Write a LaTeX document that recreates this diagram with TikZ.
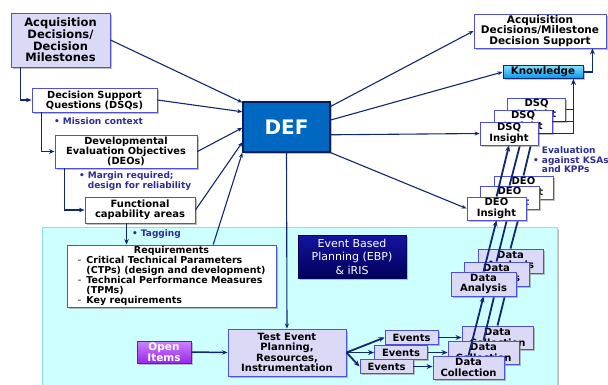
\documentclass[tikz,border=0pt]{standalone}
\usepackage{fontspec}
\setmainfont{DejaVu Sans}
\usetikzlibrary{arrows.meta,shadows,calc}

\definecolor{flow}{RGB}{16,40,112}
\definecolor{lavender}{RGB}{218,218,246}
\definecolor{edgeblue}{RGB}{80,80,215}
\definecolor{panel}{RGB}{206,255,255}
\definecolor{paneledge}{RGB}{140,222,245}
\definecolor{defblue}{RGB}{0,104,192}
\definecolor{defedge}{RGB}{8,28,88}
\definecolor{notes}{RGB}{44,44,150}
\definecolor{knowtop}{RGB}{130,225,255}
\definecolor{knowbot}{RGB}{0,150,235}
\definecolor{opentop}{RGB}{205,130,255}
\definecolor{openbot}{RGB}{150,40,235}
\definecolor{openedge}{RGB}{110,20,190}
\definecolor{ebptop}{RGB}{20,20,160}
\definecolor{ebpbot}{RGB}{0,0,90}

\tikzset{
  boxshadow/.style={drop shadow={shadow xshift=1.6pt,shadow yshift=-1.6pt,fill=black!45,opacity=.55}},
  dims/.style 2 args={minimum width=#1pt,minimum height=#2pt},
  box/.style={draw=edgeblue,line width=0.9pt,fill=white,boxshadow,align=center,inner sep=0pt,
    font=\bfseries\fontsize{10}{10.3}\selectfont},
  lavbox/.style={box,fill=lavender},
  link/.style={draw=flow,line width=1.1pt,-{Stealth[length=5pt,width=4pt]}},
  flowline/.style={draw=flow,line width=1.5pt,-{Stealth[length=5.5pt,width=4.5pt]}},
  heavy/.style={draw=flow,line width=1.8pt,-{Stealth[length=6pt,width=5pt]}},
  bar/.style={draw=flow,line width=1.8pt},
  note/.style={text=notes,font=\bfseries\fontsize{9}{9.2}\selectfont,align=left,inner sep=0pt,anchor=west},
  dsqcard/.style={box,dims={58}{23}},
  deocard/.style={box,dims={59}{23}},
  dacard/.style={lavbox,dims={65}{24}},
  dccard/.style={lavbox,dims={71}{23}},
  evcard/.style={lavbox,dims={53}{14}},
}

\begin{document}
\begin{tikzpicture}[x=1pt,y=-1pt]
\useasboundingbox (0,0) rectangle (608,384);

% test-and-evaluation area
\draw[draw=paneledge,fill=panel,line width=0.8pt,boxshadow] (42,227) rectangle (557,392);

% decision chain on the left
\node[lavbox,dims={99}{54},font=\bfseries\fontsize{11.5}{11.7}\selectfont] (acq) at (60.5,40)
  {Acquisition\\Decisions/\\Decision\\Milestones};
\node[box,dims={125}{24},font=\bfseries\fontsize{9.8}{10}\selectfont] (dsq) at (94.5,100)
  {Decision Support\\Questions (DSQs)};
\node[box,dims={142}{33},font=\bfseries\fontsize{9.8}{10}\selectfont] (deo) at (126,151.5)
  {Developmental\\Evaluation Objectives\\(DEOs)};
\node[box,dims={110}{26}] (fca) at (140,210) {Functional\\capability areas};
\node[box,dims={209}{62},font=\bfseries\fontsize{9.5}{9.1}\selectfont] (req) at (171.5,276)
  {Requirements\\
   \begin{tabular}{@{}l@{\hspace{5pt}}l@{}}
   {\color{gray}-} & Critical Technical Parameters\\
                   & (CTPs) (design and development)\\
   {\color{gray}-} & Technical Performance Measures\\
                   & (TPMs)\\
   {\color{gray}-} & Key requirements
   \end{tabular}};

\node[note] (n1) at (54,121) {•\hspace{3pt}Mission context};
\node[note] (n2) at (79,181) {•\hspace{3pt}Margin required;\\\hphantom{•\hspace{3pt}}design for reliability};
\node[note] (n3) at (132,234) {•\hspace{3pt}Tagging};

% central node
\node[draw=defedge,line width=1.3pt,fill=defblue,boxshadow,dims={87}{50},text=white,
  font=\bfseries\fontsize{20}{20}\selectfont] (def) at (286.5,127) {DEF};

\node[draw=ebpbot,top color=ebptop,bottom color=ebpbot,boxshadow,dims={108}{43},text=white,
  align=center,inner sep=0pt,font=\fontsize{11}{13.5}\selectfont] (ebp) at (352,256.5)
  {Event Based\\Planning (EBP)\\\& iRIS};

\node[draw=openedge,line width=0.8pt,top color=opentop,bottom color=openbot,boxshadow,
  dims={54}{22},text=white,align=center,inner sep=0pt,
  font=\bfseries\fontsize{10.5}{10.5}\selectfont] (open) at (164,352) {Open\\Items};
\node[lavbox,dims={118}{47}] (test) at (287,352.5)
  {Test Event\\Planning,\\Resources,\\Instrumentation};

% right-hand outputs
\node[box,dims={132}{34},font=\bfseries\fontsize{10.5}{10.3}\selectfont] (ads) at (540,31)
  {Acquisition\\Decisions/Milestone\\Decision Support};
\node[draw=flow,line width=0.9pt,top color=knowtop,bottom color=knowbot,boxshadow,
  dims={80}{13},inner sep=0pt,font=\bfseries\fontsize{10.3}{10}\selectfont] (know) at (543,72) {Knowledge};
\coordinate (bus) at ($(know.south east)+(-10,0)$);
\coordinate (kup) at ($(ads.south east)+(-14,0)$);

% decision chain connectors
\draw[flowline] ($(acq.south west)+(10,0)$) |- (dsq.west);
\draw[flowline] ($(dsq.south west)+(10,0)$) |- (deo.west);
\draw[flowline] ($(deo.south west)+(10,0)$) |- (fca.west);
\coordinate (ftap) at ($(fca.south west)+(42,0)$);
\draw[flowline] (ftap) -- (ftap |- req.north);

% inputs to DEF
\draw[link] (acq.east) -- (def.151);
\draw[link] (dsq.east) -- (def.161);
\draw[link] (deo.east) -- (def.181);
\draw[link] (fca.east) -- (def.199);
\draw[link] (req.37) -- (def.south west);
\draw[link] (def.south) -- (test.north);
\draw[flowline] (open.east) -- (test.west);

% stacked insight cards, back layer
\node[dsqcard] (dsqc) at (536.5,109.5) {DSQ\\Insight};
\node[deocard] (deoc) at (523.5,187.5) {DEO\\Insight};
\node[dacard]  (dac)  at (510.5,261)   {Data\\Analysis};
\node[dccard]  (dcc)  at (497.5,337.5) {Data\\Collection};
\draw[heavy] (dcc.north) -- (dac.south);
\draw[heavy] (dac.north) -- (deoc.south);
\draw[heavy] (deoc.north) -- (dsqc.south);
\draw[bar] (dsqc.east) -- (dsqc.east -| bus);

% middle layer
\node[dsqcard] (dsqb) at (523,121.5) {DSQ\\Insight};
\node[deocard] (deob) at (509.5,197.5) {DEO\\Insight};
\node[dacard]  (dab)  at (496.5,274)   {Data\\Analysis};
\node[dccard]  (dcb)  at (483.5,352.5) {Data\\Collection};
\draw[heavy] (dcb.north) -- (dab.south);
\draw[heavy] (dab.north) -- (deob.south);
\draw[heavy] (deob.north) -- (dsqb.south);
\draw[bar] (dsqb.east) -- (dsqb.east -| bus);

% front layer
\node[dsqcard] (dsqa) at (509,133.5) {DSQ\\Insight};
\node[deocard] (deoa) at (496.5,208.5) {DEO\\Insight};
\node[dacard]  (daa)  at (483.5,284)   {Data\\Analysis};
\node[dccard]  (dca)  at (468.5,367.5) {Data\\Collection};
\draw[heavy] (dca.north) -- (daa.south);
\draw[heavy] (daa.north) -- (deoa.south);
\draw[heavy] (deoa.north) -- (dsqa.south);
\draw[bar] (dsqa.east) -- (dsqa.east -| bus);
\draw[heavy] (dsqa.east -| bus) -- (bus);
\draw[heavy] (know.east) -| (kup);

\node[note] (n4) at (533,161) {•\hspace{3pt}\begin{tabular}[c]{@{}l@{}}Evaluation\\against KSAs\\and KPPs\end{tabular}};

% events feeding data collection
\node[evcard] (evc) at (411.5,337.5) {Events};
\node[evcard] (evb) at (401,352.5) {Events};
\node[evcard] (eva) at (386.5,366.5) {Events};
\draw[heavy] (test.east) -- (evc.west);
\draw[heavy] (test.east) -- (evb.west);
\draw[heavy] (test.east) -- (eva.west);
\draw[heavy] (evc.east) -- (evc.east -| dcc.west);
\draw[heavy] (evb.east) -- (evb.east -| dcb.west);
\draw[heavy] (eva.east) -- (eva.east -| dca.west);

% DEF outputs
\draw[link] (def.25) -- (ads.west);
\draw[link] (def.9) -- (know.west);
\draw[link] (def.350) -- (dsqa.west);
\draw[link] (def.south east) -- (deoa.west);
\end{tikzpicture}
\end{document}
